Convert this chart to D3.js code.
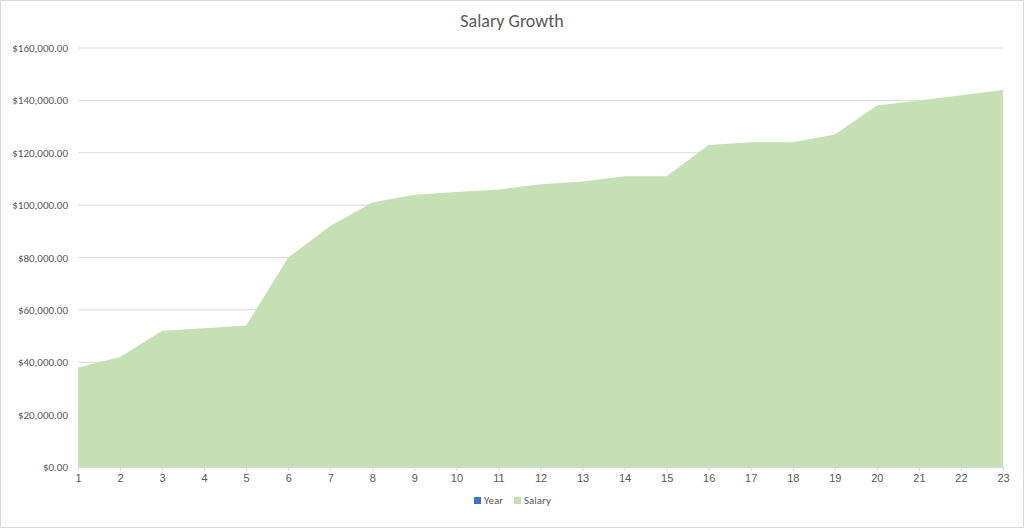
<!DOCTYPE html>
<html>
<head>
<meta charset="utf-8">
<style>
  body { margin: 0; background: #fff; }
  svg { font-family: Calibri, Carlito, "Liberation Sans", sans-serif; }
</style>
</head>
<body>
<svg></svg>
<script src="https://d3js.org/d3.v7.min.js"></script>
<script>
var years = [1,2,3,4,5,6,7,8,9,10,11,12,13,14,15,16,17,18,19,20,21,22,23];
var salary = [38000,42000,52000,53000,54000,80000,92000,101000,104000,105000,106000,108000,109000,111000,111000,123000,124000,124000,127000,138000,140000,142000,144000];
var yTicks = [0,20000,40000,60000,80000,100000,120000,140000,160000];
var title = "Salary Growth";
var legendNames = ["Year", "Salary"];
var legendColors = ["#4472c4", "#c5e0b4"];

var W = 1024, H = 528;
var svg = d3.select("svg").attr("width", W).attr("height", H);
svg.append("rect").attr("x", 0.5).attr("y", 0.5).attr("width", W - 1).attr("height", H - 1)
  .attr("fill", "#fff").attr("stroke", "#d9d9d9");

var x = d3.scaleLinear().domain([1, 23]).range([78, 1003]);
var y = d3.scaleLinear().domain([0, 160000]).range([467, 48]);
var fmt = d3.format("$,.2f");

// gridlines
svg.append("g").selectAll("line").data(yTicks.slice(1)).enter().append("line")
  .attr("x1", 78).attr("x2", 1003)
  .attr("y1", d => y(d)).attr("y2", d => y(d))
  .attr("stroke", "#d9d9d9");

// area
svg.append("path").datum(years)
  .attr("fill", "#c5e0b4")
  .attr("d", d3.area().x(d => x(d)).y0(y(0)).y1((d, i) => y(salary[i])));

// y labels
svg.append("g").selectAll("text").data(yTicks).enter().append("text")
  .attr("x", 68).attr("y", d => y(d) + 4)
  .attr("text-anchor", "end").attr("font-size", 11).attr("fill", "#595959")
  .text(d => fmt(d));

// x axis
var xAxis = d3.axisBottom(x).tickValues(years).tickFormat(d3.format("d")).tickSize(4);
var gx = svg.append("g").attr("transform", "translate(0," + y(0) + ")").call(xAxis);
gx.selectAll("path, line").attr("stroke", "#d9d9d9");
gx.selectAll("text").attr("font-size", 11).attr("fill", "#595959").attr("font-family", "inherit");

// title
svg.append("text").attr("x", W / 2).attr("y", 27).attr("text-anchor", "middle")
  .attr("font-size", 18).attr("fill", "#595959").text(title);

// legend
var lg = svg.append("g").selectAll("g").data(legendNames).enter().append("g")
  .attr("transform", (d, i) => "translate(" + (474 + i * 40) + ",504)");
lg.append("rect").attr("width", 7).attr("height", 7).attr("y", -7).attr("fill", (d, i) => legendColors[i]);
lg.append("text").attr("x", 10).attr("y", 0).attr("font-size", 11).attr("fill", "#595959").text(d => d);
</script>
</body>
</html>
